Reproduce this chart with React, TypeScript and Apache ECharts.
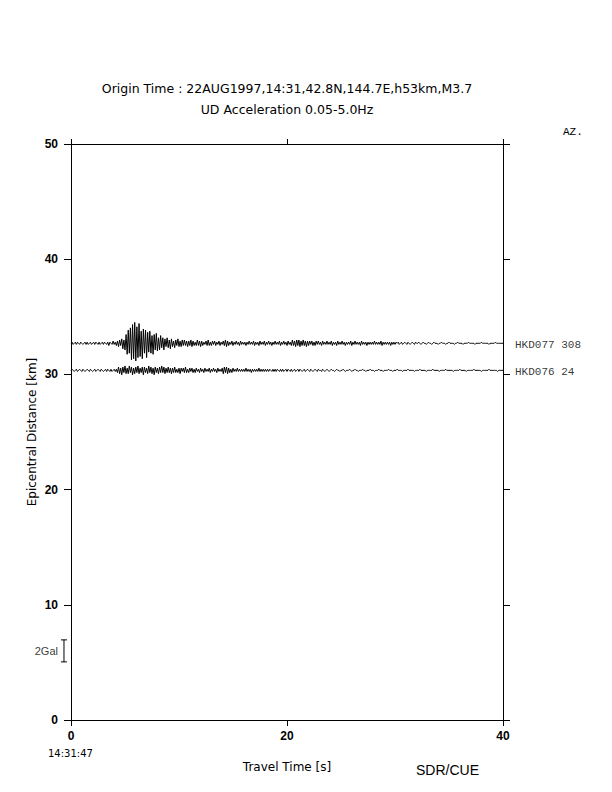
import React, { useEffect, useRef } from "react";
import * as echarts from "echarts";

// ---- Data ----
const TITLE_LINE_1 = "Origin Time : 22AUG1997,14:31,42.8N,144.7E,h53km,M3.7";
const TITLE_LINE_2 = "UD Acceleration 0.05-5.0Hz";
const STATIONS = ["HKD077", "HKD076"];
const AZIMUTHS = [308, 24];
const DISTANCES_KM = [32.7, 30.35];
const SAMPLE_STEP_S = 0.1;
const KM_PER_GAL = 0.955;
const SCALE_BAR_GAL = 2;
const SCALE_BAR_CENTER_KM = 6.0;
const SCALE_BAR_TIME_S = -0.65;

// amplitudes in 0.1 Gal, one sample every 0.1 s from 0 s
const HKD077 = [
  0,1,-1,0,1,-1,1,0,-1,1,0,-1,0,1,-1,1,-1,0,1,-1,
  0,1,-1,1,0,-1,1,-1,0,1,-1,1,0,-1,1,-2,1,0,-1,2,
  -1,1,-2,2,-3,3,-2,4,-5,3,
  -6,8,-10,12,-9,14,-15,17,-14,19,
  -16,15,-13,18,-12,11,-14,13,-9,12,
  -13,10,-8,11,-9,7,-10,8,-6,9,
  -7,5,-6,7,-4,5,-6,4,-3,5,
  -4,3,-5,4,-3,2,-4,3,-2,4,
  -3,2,-3,3,-2,3,-2,2,-3,2,
  -2,3,-3,2,-2,1,-2,3,-2,2,
  -3,2,-2,1,-1,2,-2,3,-2,1,
  -2,2,-1,2,-2,1,-1,2,-2,1,
  -1,2,-2,3,-3,2,-2,1,-1,2,
  -2,1,-1,2,-1,1,-2,2,-1,1,
  -1,1,-2,1,-1,2,-1,1,-1,2,-2,1,-1,1,-2,2,-1,1,-1,2,
  -2,1,-1,2,-1,1,-2,1,-1,2,-1,1,-1,2,-2,1,-1,2,-1,1,
  -2,2,-1,1,-2,3,-2,2,-3,3,-2,3,-3,2,-2,3,-2,2,-3,2,
  -2,2,-1,2,-2,1,-2,2,-1,2,-1,1,-2,2,-1,1,-1,2,-1,1,
  -1,2,-2,1,-1,1,-2,2,-1,1,-1,2,-1,1,-2,1,-1,1,-1,2,
  -2,1,-1,2,-1,1,-1,1,-2,2,-1,1,-1,1,-2,1,-1,1,-1,1,
  -1,2,-1,1,-1,1,-1,2,-2,1,-1,1,-1,1,-1,1,-2,1,-1,1,
  -1,1,0,1,-1,0,1,-1,0,1,0,-1,1,0,-1,0,1,0,-1,1,
  0,0,1,0,-1,0,1,0,0,-1,0,1,0,0,-1,0,1,0,0,0,
  -1,0,0,1,0,0,0,-1,0,0,1,0,0,0,0,-1,0,0,1,0,
  0,0,0,-1,0,0,0,0,1,0,0,0,0,0,-1,0,0,0,0,0,
  1,0,0,0,0,0,0,-1,0,0,0,0,0,1,0,0,0,0,0,0,
  0,
];

const HKD076 = [
  0,1,0,-1,0,1,-1,0,1,0,-1,1,0,-1,0,1,0,-1,1,0,
  -1,0,1,-1,0,1,0,-1,1,0,-1,0,1,-1,1,0,-1,1,-1,0,
  1,-1,1,-2,3,-3,2,-4,3,-2,4,-3,2,-3,4,-2,3,-4,2,-3,
  3,-2,4,-3,2,-2,3,-4,3,-2,2,-3,4,-2,3,-3,2,-4,3,-2,
  2,-3,3,-2,4,-2,3,-3,2,-2,3,-2,2,-3,2,-2,3,-2,1,-2,
  2,-3,2,-1,2,-2,3,-2,1,-2,2,-1,2,-2,1,-2,2,-1,1,-2,
  2,-1,1,-2,2,-1,1,-1,2,-2,1,-1,2,-1,1,-2,2,-1,1,-1,
  2,-3,3,-2,3,-3,2,-2,1,-2,2,-1,1,-1,2,-1,1,-1,1,-1,
  1,-1,2,-1,1,-1,1,-2,1,-1,1,-1,1,-1,2,-1,1,-1,1,-1,
  1,-1,1,-1,1,0,-1,1,-1,1,-1,1,0,-1,1,-1,1,-1,0,1,
  -1,1,0,-1,1,-1,0,1,-1,0,1,-1,1,0,-1,0,1,-1,0,1,
  0,-1,1,0,-1,0,1,0,-1,1,0,0,-1,1,0,-1,0,1,0,-1,
  0,1,0,0,-1,0,1,0,0,-1,0,0,1,0,-1,0,0,0,1,0,
  -1,0,0,1,0,0,-1,0,0,0,1,0,0,-1,0,0,0,1,0,0,
  0,-1,0,0,0,1,0,0,0,-1,0,0,0,0,1,0,0,0,-1,0,
  0,0,1,0,0,0,0,-1,0,0,0,0,1,0,0,0,0,0,-1,0,
  0,0,0,1,0,0,0,0,0,-1,0,0,0,0,0,1,0,0,0,0,
  0,-1,0,0,0,0,0,1,0,0,0,0,0,0,-1,0,0,0,0,0,
  1,0,0,0,0,0,-1,0,0,0,0,0,0,1,0,0,0,0,0,0,
  -1,0,0,0,0,0,0,1,0,0,0,0,0,0,0,-1,0,0,0,0,
  0,
];

const TRACES = [HKD077, HKD076];

const SANS = "'DejaVu Sans', 'Liberation Sans', Arial, sans-serif";
const SANS_NARROW = "'Liberation Sans', Arial, Helvetica, sans-serif";
const MONO = "'Liberation Mono', 'DejaVu Sans Mono', monospace";

function traceData(vals: number[], dist: number) {
  return vals.map((v, i) => [Number((i * SAMPLE_STEP_S).toFixed(1)), dist + v * 0.1 * KM_PER_GAL]);
}

export default function App() {
  const ref = useRef<HTMLDivElement>(null);
  useEffect(() => {
    if (!ref.current) return;
    const chart = echarts.init(ref.current, null, { renderer: "svg" });
    const halfBar = (SCALE_BAR_GAL * KM_PER_GAL) / 2;
    const axisLine = { show: true, onZero: false, lineStyle: { color: "#000", width: 1 } };
    const tick = (length: number) => ({ show: true, inside: false, length, lineStyle: { color: "#000", width: 1 } });
    const traceSeries = TRACES.map((vals, k) => ({
      type: "line",
      name: STATIONS[k],
      data: traceData(vals, DISTANCES_KM[k]),
      showSymbol: false,
      symbol: "none",
      lineStyle: { color: "#000", width: 1 },
      silent: true,
      z: 3,
    }));
    chart.setOption({
      animation: false,
      backgroundColor: "#fff",
      grid: { left: 71, right: 109, top: 144, bottom: 72, containLabel: false },
      xAxis: [
        {
          type: "value",
          position: "bottom",
          min: 0,
          max: 40,
          interval: 20,
          splitLine: { show: false },
          axisLine,
          axisTick: tick(6),
          axisLabel: { margin: 10, color: "#000", fontFamily: SANS_NARROW, fontWeight: "bold", fontSize: 12 },
        },
        {
          type: "value",
          position: "top",
          min: 0,
          max: 40,
          interval: 20,
          splitLine: { show: false },
          axisLine,
          axisTick: tick(5),
          axisLabel: { show: false },
        },
      ],
      yAxis: [
        {
          type: "value",
          position: "left",
          min: 0,
          max: 50,
          interval: 10,
          splitLine: { show: false },
          axisLine,
          axisTick: tick(7),
          axisLabel: { margin: 13, color: "#000", fontFamily: SANS_NARROW, fontWeight: "bold", fontSize: 12 },
        },
        {
          type: "value",
          position: "right",
          min: 0,
          max: 50,
          interval: 10,
          splitLine: { show: false },
          axisLine,
          axisTick: tick(7),
          axisLabel: { show: false },
        },
      ],
      series: [
        ...traceSeries,
        {
          type: "scatter",
          data: STATIONS.map((s, k) => [40, DISTANCES_KM[k], `${s} ${AZIMUTHS[k]}`]),
          symbolSize: 0,
          silent: true,
          label: {
            show: true,
            position: "right",
            distance: 12,
            offset: [0, 1.5],
            formatter: (p: any) => p.data[2],
            color: "#000",
            fontFamily: MONO,
            fontSize: 11,
          },
        },
        {
          type: "custom",
          clip: false,
          silent: true,
          data: [[SCALE_BAR_TIME_S, SCALE_BAR_CENTER_KM - halfBar, SCALE_BAR_CENTER_KM + halfBar]],
          renderItem: (params: any, api: any) => {
            const bot = api.coord([api.value(0), api.value(1)]);
            const top = api.coord([api.value(0), api.value(2)]);
            const st = { stroke: "#000", lineWidth: 1 };
            return {
              type: "group",
              children: [
                { type: "line", shape: { x1: top[0], y1: top[1], x2: bot[0], y2: bot[1] }, style: st },
                { type: "line", shape: { x1: top[0] - 3, y1: top[1], x2: top[0] + 3, y2: top[1] }, style: st },
                { type: "line", shape: { x1: bot[0] - 3, y1: bot[1], x2: bot[0] + 3, y2: bot[1] }, style: st },
              ],
            };
          },
        },
        {
          type: "scatter",
          data: [[SCALE_BAR_TIME_S, SCALE_BAR_CENTER_KM, `${SCALE_BAR_GAL}Gal`]],
          symbolSize: 0,
          clip: false,
          silent: true,
          label: {
            show: true,
            position: "left",
            distance: 6,
            formatter: (p: any) => p.data[2],
            color: "#000",
            fontFamily: SANS_NARROW,
            fontSize: 11,
          },
        },
      ],
      graphic: [
        { type: "text", x: 287, y: 88, style: { text: TITLE_LINE_1, fill: "#000", font: `12.5px ${SANS}`, textAlign: "center", textVerticalAlign: "middle" } },
        { type: "text", x: 287, y: 109, style: { text: TITLE_LINE_2, fill: "#000", font: `12.5px ${SANS}`, textAlign: "center", textVerticalAlign: "middle" } },
        { type: "text", x: 563, y: 132, style: { text: "AZ.", fill: "#000", font: `11px ${MONO}`, textAlign: "left", textVerticalAlign: "middle" } },
        { type: "text", x: 32, y: 432, rotation: Math.PI / 2, style: { text: "Epicentral Distance [km]", fill: "#000", font: `12px ${SANS}`, textAlign: "center", textVerticalAlign: "middle" } },
        { type: "text", x: 287, y: 767, style: { text: "Travel Time [s]", fill: "#000", font: `12px ${SANS}`, textAlign: "center", textVerticalAlign: "middle" } },
        { type: "text", x: 48, y: 753, style: { text: "14:31:47", fill: "#000", font: `10px ${SANS}`, textAlign: "left", textVerticalAlign: "middle" } },
        { type: "text", x: 416, y: 770, style: { text: "SDR/CUE", fill: "#000", font: `14px ${SANS_NARROW}`, textAlign: "left", textVerticalAlign: "middle" } },
      ],
    });
    return () => chart.dispose();
  }, []);
  return (
    <div
      ref={ref}
      style={{ position: "absolute", left: 0, top: 0, width: 612, height: 792, background: "#fff" }}
    />
  );
}
